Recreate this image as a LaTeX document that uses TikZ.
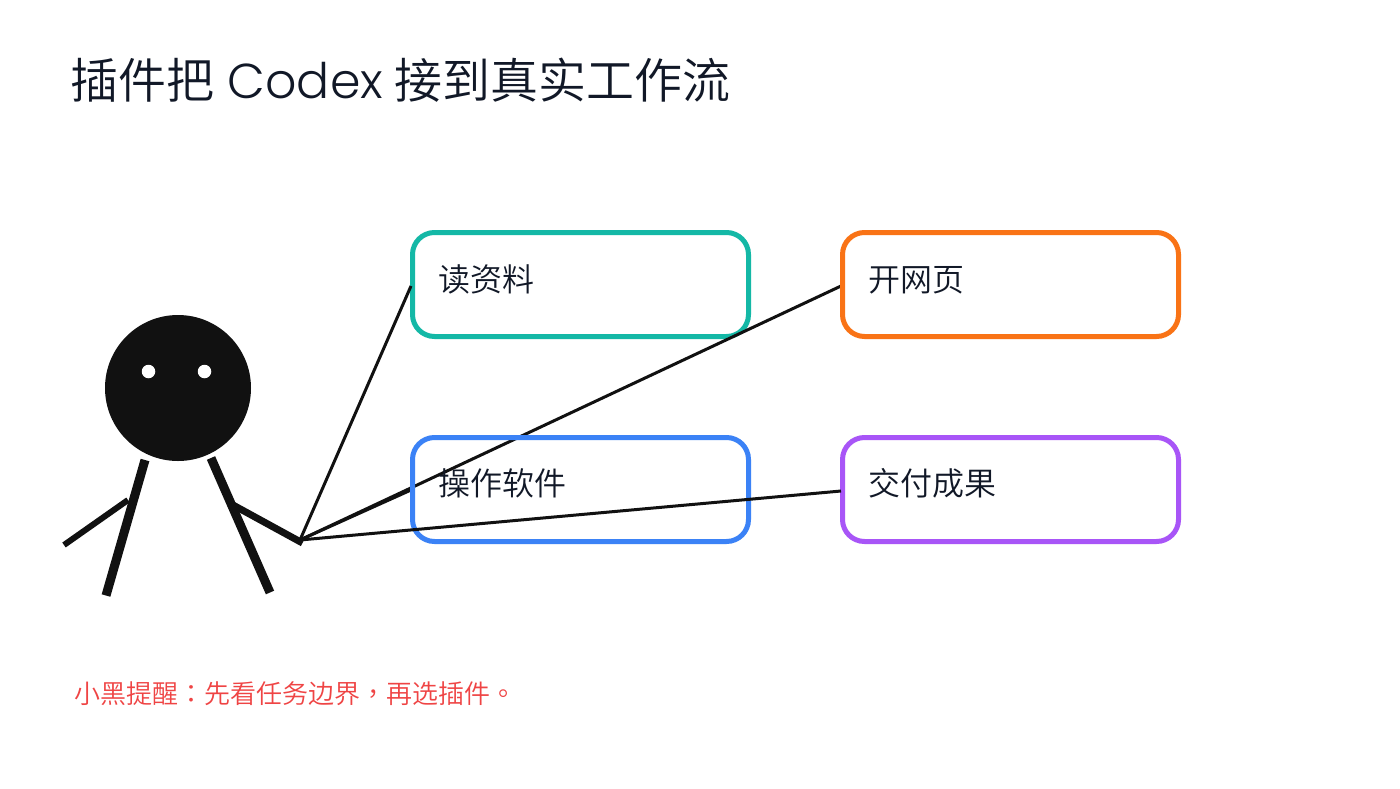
\documentclass[tikz,border=0pt]{standalone}
\usepackage{fontspec}
\setmainfont{Noto Sans CJK SC DemiLight}
\newfontfamily\latinfont{Poppins Light}
\newfontfamily\punctfont{Noto Sans CJK TC DemiLight}
\definecolor{ink}{HTML}{111111}
\definecolor{titleink}{HTML}{111827}
\definecolor{alert}{HTML}{EF4444}
\definecolor{teal}{HTML}{14B8A6}
\definecolor{tangerine}{HTML}{F97316}
\definecolor{azure}{HTML}{3B82F6}
\definecolor{violet}{HTML}{A855F7}
\pgfdeclarelayer{under}
\pgfsetlayers{under,main}
\tikzset{
  card/.style={draw=#1, line width=5pt, rounded corners=22pt, minimum width=336pt, minimum height=104pt, inner sep=0pt, outer sep=1.5pt},
  cardtext/.style={anchor=base west, inner sep=0pt, text=titleink, font=\fontsize{32}{32}\selectfont},
  link/.style={draw=ink, line width=3pt},
  limb/.style={draw=ink, line width=#1},
}
\begin{document}
\begin{tikzpicture}[x=1pt,y=-1pt]
\useasboundingbox (0,0) rectangle (1400,788);
\begin{pgfonlayer}{under}
\fill[white] (0,0) rectangle (1400,788);
\end{pgfonlayer}

\node[anchor=base west, inner sep=0pt, text=titleink, font=\fontsize{48}{48}\selectfont] (title) at (70.5,98) {插件把\hspace{13pt}{\latinfont\fontsize{49}{49}\selectfont Codex}\hspace{11pt}接到真实工作流};

% task cards
\begin{pgfonlayer}{under}
\node[card=teal] (read) at (580.5,284.5) {};
\end{pgfonlayer}
\node[card=tangerine] (web) at (1010.5,284.5) {};
\node[card=azure] (soft) at (580.5,489.5) {};
\node[card=violet] (ship) at (1010.5,489.5) {};

\node[cardtext] (readt) at (438,291) {读资料};
\node[cardtext] (webt) at (868,291) {开网页};
\node[cardtext] (softt) at (438,495) {操作软件};
\node[cardtext] (shipt) at (868,495) {交付成果};

% figure
\node[circle, fill=ink, minimum size=146pt, inner sep=0pt] (head) at (178,388) {};
\node[circle, fill=white, minimum size=13.5pt, inner sep=0pt] (eyeL) at (148.5,371.5) {};
\node[circle, fill=white, minimum size=13.5pt, inner sep=0pt] (eyeR) at (204.5,371.5) {};
\coordinate (hipL) at (145,460);
\coordinate (footL) at (106,595.5);
\coordinate (hipR) at (211,458);
\coordinate (footR) at (270,592.5);
\coordinate (armL) at (128,500);
\coordinate (handL) at (64,545);
\coordinate (armR) at (233,505);
\coordinate (hand) at (302.5,543);
\coordinate (fan) at (300,540);
\draw[limb=9pt] (hipL) -- (footL);
\draw[limb=9pt] (hipR) -- (footR);
\draw[limb=6pt] (armL) -- (handL);
\draw[limb=7pt] (armR) -- (hand);

% connectors from the hand
\draw[link] (fan) -- ([yshift=-1.5pt]read.west);
\begin{pgfonlayer}{under}
\draw[link] (fan) -- ([yshift=-1.5pt]web.west);
\draw[link] (fan) -- ([yshift=-0.5pt]soft.west);
\end{pgfonlayer}
\draw[link] (fan) -- ([yshift=-1.5pt]ship.west);

\node[anchor=base west, inner sep=0pt, text=alert, font=\fontsize{26}{26}\selectfont] (note) at (74,703) {小黑提醒{\punctfont ：}先看任务边界{\punctfont ，}再选插件{\punctfont 。}};
\end{tikzpicture}
\end{document}
